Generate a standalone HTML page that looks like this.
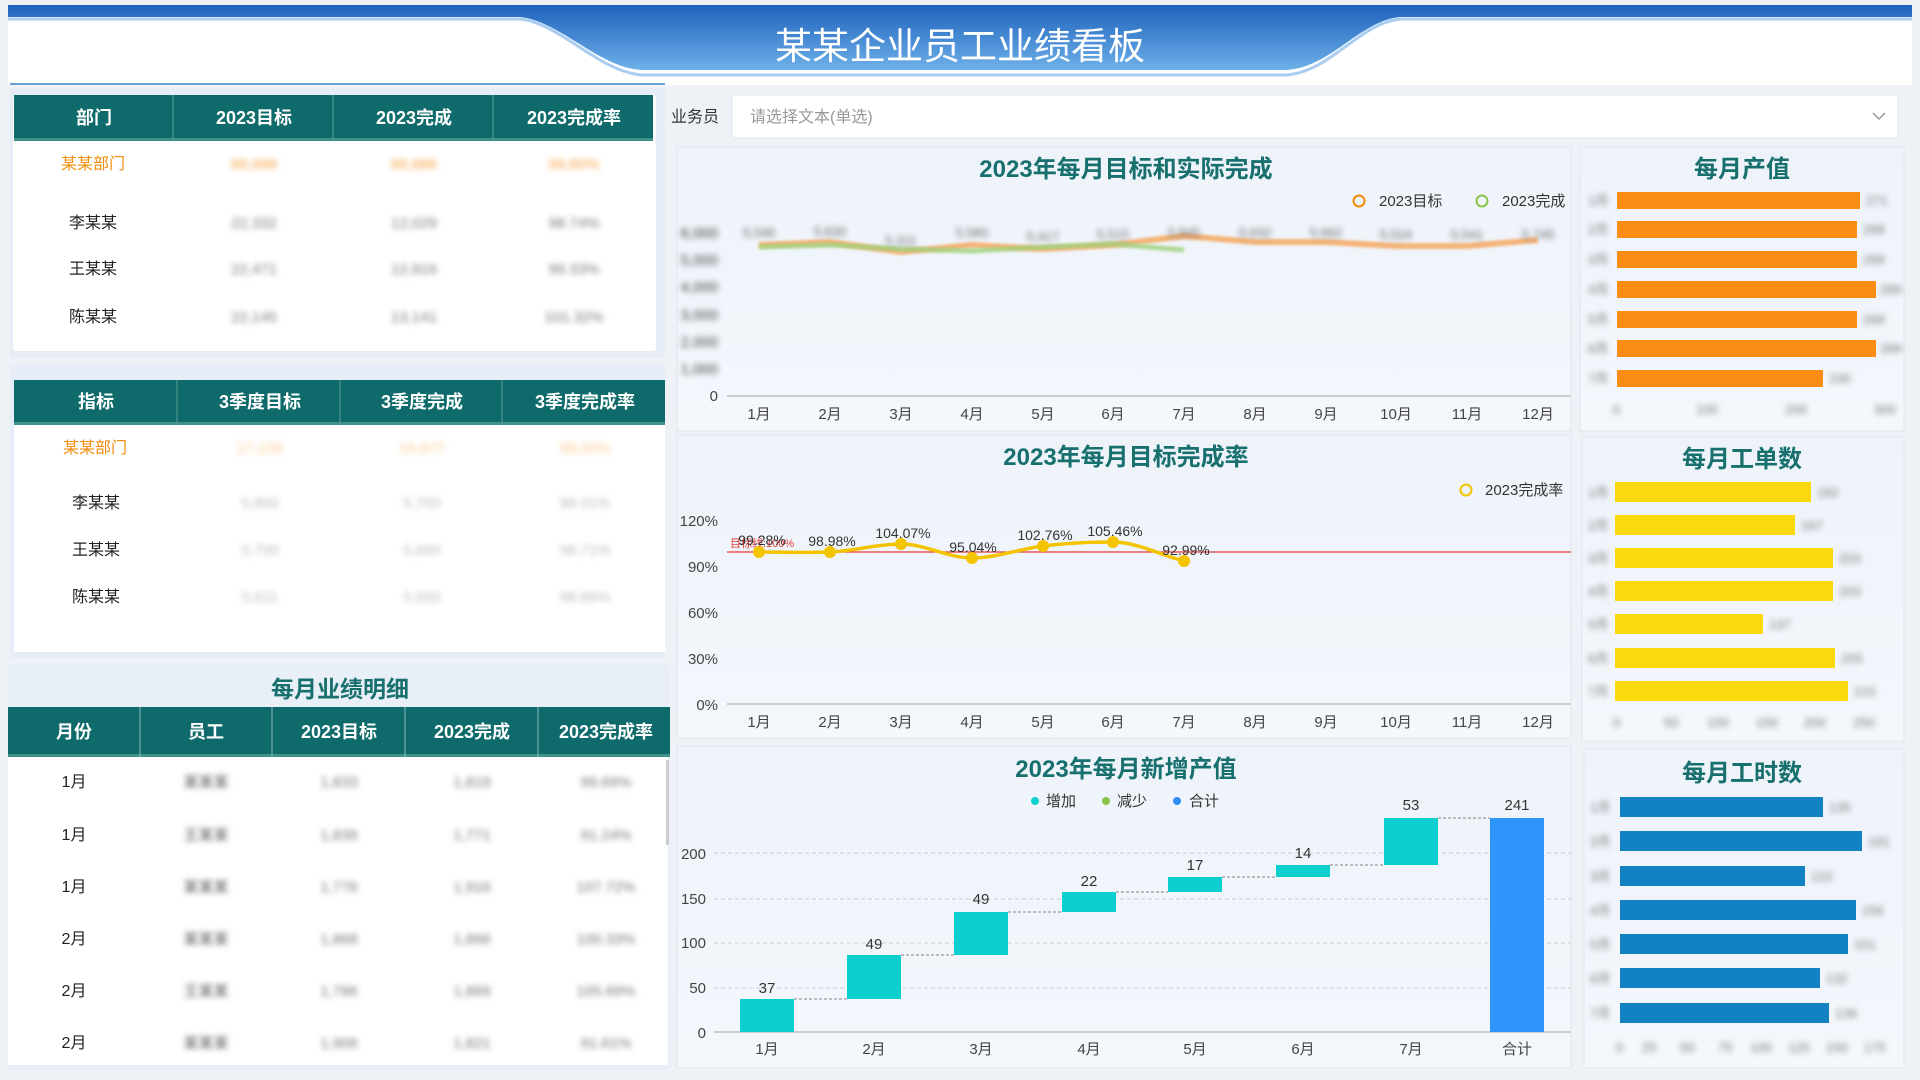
<!DOCTYPE html>
<html><head><meta charset="utf-8"><style>
html,body{margin:0;padding:0;background:#eef1f5;}
svg{display:block;font-family:"Liberation Sans","Noto Sans CJK SC",sans-serif;}
.b{filter:blur(3px);}
.th{fill:#fff;font-weight:bold;font-size:18px;text-anchor:middle;}
.td{fill:#222;font-size:16px;text-anchor:middle;}
.tb{fill:#777;font-size:15px;text-anchor:middle;filter:blur(3px);}
.ttl{fill:#17706e;font-weight:bold;font-size:24px;text-anchor:middle;}
.ax{fill:#444;font-size:15px;}
.lb{fill:#333;font-size:14px;text-anchor:middle;}
</style></head><body>
<svg width="1920" height="1080" viewBox="0 0 1920 1080">
<defs>
<linearGradient id="hg" x1="0" y1="0" x2="0" y2="1"><stop offset="0" stop-color="#1f62bd"/><stop offset="1" stop-color="#6db0e8"/></linearGradient>
<linearGradient id="pg" x1="0" y1="0" x2="0" y2="1"><stop offset="0" stop-color="#eef3fa"/><stop offset="1" stop-color="#f4f7fc"/></linearGradient>
</defs>
<rect width="1920" height="1080" fill="#eef1f5"/>
<!-- header -->
<rect x="8" y="5" width="1904" height="80" fill="#fff"/>
<path d="M8 5 H1912 V17 H1401 C1360 20 1330 69 1285 70 H643 C600 69 560 21 520 17 H8 Z" fill="url(#hg)"/>
<path d="M8 19 H520 C560 23 600 73 643 75 H1285 C1330 73 1360 22 1401 19 H1912" fill="none" stroke="#a9cdf0" stroke-width="3"/>
<line x1="10" y1="84" x2="665" y2="84" stroke="#6a9fd8" stroke-width="2"/>
<text x="960" y="59" fill="#fff" font-size="37" text-anchor="middle">某某企业员工业绩看板</text>

<!-- left panel 1 -->
<rect x="10" y="88" width="655" height="270" fill="#e6edf6"/>
<rect x="13" y="95" width="643" height="256" fill="#fff" rx="3"/>
<rect x="14" y="95" width="639" height="45" fill="#0f6b6b"/>
<rect x="14" y="138" width="639" height="3" fill="#3f918b"/>
<g stroke="#5e9c98" stroke-width="1"><line x1="173" y1="95" x2="173" y2="140"/><line x1="333" y1="95" x2="333" y2="140"/><line x1="493" y1="95" x2="493" y2="140"/></g>
<text class="th" x="94" y="124">部门</text><text class="th" x="254" y="124">2023目标</text><text class="th" x="414" y="124">2023完成</text><text class="th" x="574" y="124">2023完成率</text>
<text class="td" x="93" y="169" fill="#f28c0a" style="fill:#f28c0a">某某部门</text>
<text class="tb" x="254" y="169" style="fill:#f5a040">66,998</text><text class="tb" x="414" y="169" style="fill:#f5a040">66,686</text><text class="tb" x="574" y="169" style="fill:#f5a040">99,60%</text>
<text class="td" x="93" y="228">李某某</text><text class="tb" x="254" y="228">22,332</text><text class="tb" x="414" y="228">12,029</text><text class="tb" x="574" y="228">98.74%</text>
<text class="td" x="93" y="274">王某某</text><text class="tb" x="254" y="274">22,471</text><text class="tb" x="414" y="274">12,916</text><text class="tb" x="574" y="274">99.33%</text>
<text class="td" x="93" y="322">陈某某</text><text class="tb" x="254" y="322">22,145</text><text class="tb" x="414" y="322">13,141</text><text class="tb" x="574" y="322">101.32%</text>

<!-- left panel 2 -->
<rect x="10" y="365" width="655" height="293" fill="#e6edf6"/>
<rect x="14" y="380" width="651" height="272" fill="#fff"/>
<rect x="14" y="380" width="651" height="44" fill="#0f6b6b"/>
<rect x="14" y="422" width="651" height="3" fill="#3f918b"/>
<g stroke="#5e9c98"><line x1="177" y1="380" x2="177" y2="424"/><line x1="340" y1="380" x2="340" y2="424"/><line x1="502" y1="380" x2="502" y2="424"/></g>
<text class="th" x="96" y="408">指标</text><text class="th" x="260" y="408">3季度目标</text><text class="th" x="422" y="408">3季度完成</text><text class="th" x="585" y="408">3季度完成率</text>
<text class="td" x="95" y="453" style="fill:#f28c0a">某某部门</text>
<text class="tb" x="260" y="453" style="fill:#fbcb90">17,130</text><text class="tb" x="422" y="453" style="fill:#fbcb90">16,877</text><text class="tb" x="585" y="453" style="fill:#fbcb90">98,50%</text>
<text class="td" x="96" y="508">李某某</text><text class="tb" x="260" y="508" style="fill:#bbb">5,800</text><text class="tb" x="422" y="508" style="fill:#bbb">5,700</text><text class="tb" x="585" y="508" style="fill:#bbb">98.01%</text>
<text class="td" x="96" y="555">王某某</text><text class="tb" x="260" y="555" style="fill:#bbb">5,700</text><text class="tb" x="422" y="555" style="fill:#bbb">5,600</text><text class="tb" x="585" y="555" style="fill:#bbb">98.71%</text>
<text class="td" x="96" y="602">陈某某</text><text class="tb" x="260" y="602" style="fill:#bbb">5,611</text><text class="tb" x="422" y="602" style="fill:#bbb">5,550</text><text class="tb" x="585" y="602" style="fill:#bbb">98.89%</text>

<!-- left panel 3 -->
<rect x="8" y="665" width="662" height="405" fill="#e9eff7"/>
<rect x="8" y="757" width="660" height="308" fill="#fff"/>
<text class="ttl" x="340" y="697" style="font-size:23px">每月业绩明细</text>
<rect x="8" y="707" width="662" height="50" fill="#0f6b6b"/>
<rect x="8" y="754" width="662" height="3" fill="#3f918b"/>
<g stroke="#8bb8b5"><line x1="140" y1="707" x2="140" y2="757"/><line x1="272" y1="707" x2="272" y2="757"/><line x1="405" y1="707" x2="405" y2="757"/><line x1="538" y1="707" x2="538" y2="757"/></g>
<text class="th" x="74" y="738">月份</text><text class="th" x="206" y="738">员工</text><text class="th" x="339" y="738">2023目标</text><text class="th" x="472" y="738">2023完成</text><text class="th" x="606" y="738">2023完成率</text>
<rect x="666" y="760" width="3" height="85" fill="#ccc"/>
<g>
<text class="td" x="74" y="787">1月</text><text class="tb" x="206" y="787" style="fill:#555">某某某</text><text class="tb" x="339" y="787">1,833</text><text class="tb" x="472" y="787">1,819</text><text class="tb" x="606" y="787">99.69%</text>
<text class="td" x="74" y="840">1月</text><text class="tb" x="206" y="840" style="fill:#555">王某某</text><text class="tb" x="339" y="840">1,839</text><text class="tb" x="472" y="840">1,771</text><text class="tb" x="606" y="840">91.24%</text>
<text class="td" x="74" y="892">1月</text><text class="tb" x="206" y="892" style="fill:#555">某某某</text><text class="tb" x="339" y="892">1,776</text><text class="tb" x="472" y="892">1,916</text><text class="tb" x="606" y="892">107.72%</text>
<text class="td" x="74" y="944">2月</text><text class="tb" x="206" y="944" style="fill:#555">某某某</text><text class="tb" x="339" y="944">1,868</text><text class="tb" x="472" y="944">1,866</text><text class="tb" x="606" y="944">100.33%</text>
<text class="td" x="74" y="996">2月</text><text class="tb" x="206" y="996" style="fill:#555">王某某</text><text class="tb" x="339" y="996">1,786</text><text class="tb" x="472" y="996">1,869</text><text class="tb" x="606" y="996">105.69%</text>
<text class="td" x="74" y="1048">2月</text><text class="tb" x="206" y="1048" style="fill:#555">某某某</text><text class="tb" x="339" y="1048">1,906</text><text class="tb" x="472" y="1048">1,821</text><text class="tb" x="606" y="1048">91.61%</text>
</g>

<!-- dropdown -->
<text x="671" y="122" font-size="16" fill="#333">业务员</text>
<rect x="732" y="95" width="1166" height="43" rx="3" fill="#fff" stroke="#e3e8ef"/>
<text x="750" y="122" font-size="16" fill="#999">请选择文本(单选)</text>
<path d="M1873 113 l6 6 l6 -6" fill="none" stroke="#999" stroke-width="1.5"/>

<!-- chart panels -->
<rect x="677" y="147" width="894" height="284" fill="url(#pg)" stroke="#dfe7f1"/>
<rect x="677" y="435" width="894" height="303" fill="url(#pg)" stroke="#dfe7f1"/>
<rect x="677" y="746" width="894" height="322" fill="url(#pg)" stroke="#dfe7f1"/>
<rect x="1580" y="147" width="324" height="284" fill="url(#pg)" stroke="#dfe7f1"/>
<rect x="1582" y="437" width="322" height="304" fill="url(#pg)" stroke="#dfe7f1"/>
<rect x="1584" y="749" width="320" height="319" fill="url(#pg)" stroke="#dfe7f1"/>

<!-- chart1 -->
<text class="ttl" x="1126" y="177">2023年每月目标和实际完成</text>
<circle cx="1359" cy="201" r="5.5" fill="none" stroke="#f28c0a" stroke-width="2"/><text x="1379" y="206" font-size="15" fill="#333">2023目标</text>
<circle cx="1482" cy="201" r="5.5" fill="none" stroke="#8bc34a" stroke-width="2"/><text x="1502" y="206" font-size="15" fill="#333">2023完成</text>
<g class="ax" text-anchor="end">
<text x="718" y="401">0</text>
<g class="b"><text x="718" y="374">1,000</text><text x="718" y="347">2,000</text><text x="718" y="320">3,000</text><text x="718" y="292">4,000</text><text x="718" y="265">5,000</text><text x="718" y="238">6,000</text></g>
</g>
<line x1="727" y1="396" x2="1571" y2="396" stroke="#ccc" stroke-width="2"/>
<g class="ax" text-anchor="middle">
<text x="759" y="419">1月</text><text x="830" y="419">2月</text><text x="901" y="419">3月</text><text x="972" y="419">4月</text><text x="1043" y="419">5月</text><text x="1113" y="419">6月</text><text x="1184" y="419">7月</text><text x="1255" y="419">8月</text><text x="1326" y="419">9月</text><text x="1396" y="419">10月</text><text x="1467" y="419">11月</text><text x="1538" y="419">12月</text>
</g>
<polyline points="759,245 830,242 901,252 972,245 1043,249 1113,245 1184,236 1255,242 1326,242 1396,246 1467,246 1538,240" fill="none" stroke="#f5a962" stroke-width="6" opacity="0.85" style="filter:blur(1.2px)"/>
<polyline points="759,247 830,245 901,249 972,251 1043,247 1113,244 1184,250" fill="none" stroke="#9ed27a" stroke-width="5" opacity="0.8" style="filter:blur(1.2px)"/>
<g class="b" font-size="13" fill="#666" text-anchor="middle">
<text x="759" y="237">5,546</text><text x="830" y="236">5,630</text><text x="901" y="245">5,311</text><text x="972" y="237">5,580</text><text x="1043" y="241">5,417</text><text x="1113" y="239">5,515</text><text x="1184" y="237">5,845</text><text x="1255" y="237">5,632</text><text x="1326" y="237">5,662</text><text x="1396" y="239">5,524</text><text x="1467" y="239">5,541</text><text x="1538" y="239">5,745</text>
</g>

<!-- chart2 -->
<text class="ttl" x="1126" y="465">2023年每月目标完成率</text>
<circle cx="1466" cy="490" r="5.5" fill="none" stroke="#f5c400" stroke-width="2"/><text x="1485" y="495" font-size="15" fill="#333">2023完成率</text>
<g class="ax" text-anchor="end"><text x="718" y="526">120%</text><text x="718" y="572">90%</text><text x="718" y="618">60%</text><text x="718" y="664">30%</text><text x="718" y="710">0%</text></g>
<line x1="727" y1="704" x2="1571" y2="704" stroke="#ccc" stroke-width="2"/>
<g class="ax" text-anchor="middle">
<text x="759" y="727">1月</text><text x="830" y="727">2月</text><text x="901" y="727">3月</text><text x="972" y="727">4月</text><text x="1043" y="727">5月</text><text x="1113" y="727">6月</text><text x="1184" y="727">7月</text><text x="1255" y="727">8月</text><text x="1326" y="727">9月</text><text x="1396" y="727">10月</text><text x="1467" y="727">11月</text><text x="1538" y="727">12月</text>
</g>
<line x1="727" y1="552" x2="1571" y2="552" stroke="#e53935" stroke-width="1.2"/>
<text x="730" y="547" font-size="11" fill="#e53935">目标线:100%</text>
<path d="M759,552 C783,552 806,553 830,552 C854,551 877,544 901,544 C925,544 948,558 972,558 C996,558 1019,549 1043,546 C1067,543 1090,542 1113,542 C1137,542 1160,555 1184,561" fill="none" stroke="#f5c400" stroke-width="3.5"/>
<g fill="#f5c400"><circle cx="759" cy="552" r="6"/><circle cx="830" cy="552" r="6"/><circle cx="901" cy="544" r="6"/><circle cx="972" cy="558" r="6"/><circle cx="1043" cy="546" r="6"/><circle cx="1113" cy="542" r="6"/><circle cx="1184" cy="561" r="6"/></g>
<g class="lb"><text x="762" y="545">99.28%</text><text x="832" y="546">98.98%</text><text x="903" y="538">104.07%</text><text x="973" y="552">95.04%</text><text x="1045" y="540">102.76%</text><text x="1115" y="536">105.46%</text><text x="1186" y="555">92.99%</text></g>

<!-- chart3 waterfall -->
<text class="ttl" x="1126" y="777">2023年每月新增产值</text>
<circle cx="1035" cy="801" r="4" fill="#0fcfcf"/><text x="1046" y="806" font-size="15" fill="#333">增加</text>
<circle cx="1106" cy="801" r="4" fill="#8bc34a"/><text x="1117" y="806" font-size="15" fill="#333">减少</text>
<circle cx="1177" cy="801" r="4" fill="#2e8ef5"/><text x="1189" y="806" font-size="15" fill="#333">合计</text>
<g stroke="#ccc" stroke-dasharray="4,3"><line x1="714" y1="853" x2="1571" y2="853"/><line x1="714" y1="899" x2="1571" y2="899"/><line x1="714" y1="943" x2="1571" y2="943"/><line x1="714" y1="988" x2="1571" y2="988"/></g>
<line x1="714" y1="1032" x2="1571" y2="1032" stroke="#ccc" stroke-width="2"/>
<g class="ax" text-anchor="end"><text x="706" y="859">200</text><text x="706" y="904">150</text><text x="706" y="948">100</text><text x="706" y="993">50</text><text x="706" y="1038">0</text></g>
<g fill="#0dcfcf">
<rect x="740" y="999" width="54" height="33"/>
<rect x="847" y="955" width="54" height="44"/>
<rect x="954" y="912" width="54" height="43"/>
<rect x="1062" y="892" width="54" height="20"/>
<rect x="1168" y="877" width="54" height="15"/>
<rect x="1276" y="865" width="54" height="12"/>
<rect x="1384" y="818" width="54" height="47"/>
</g>
<rect x="1490" y="818" width="54" height="214" fill="#2e95fb"/>
<g stroke="#aaa" stroke-dasharray="3,2" stroke-width="1.5"><line x1="794" y1="999" x2="847" y2="999"/><line x1="901" y1="955" x2="954" y2="955"/><line x1="1008" y1="912" x2="1062" y2="912"/><line x1="1116" y1="892" x2="1168" y2="892"/><line x1="1222" y1="877" x2="1276" y2="877"/><line x1="1330" y1="865" x2="1384" y2="865"/><line x1="1438" y1="818" x2="1490" y2="818"/></g>
<g class="lb" style="font-size:15px"><text x="767" y="993">37</text><text x="874" y="949">49</text><text x="981" y="904">49</text><text x="1089" y="886">22</text><text x="1195" y="870">17</text><text x="1303" y="858">14</text><text x="1411" y="810">53</text><text x="1517" y="810">241</text></g>
<g class="ax" text-anchor="middle"><text x="767" y="1054">1月</text><text x="874" y="1054">2月</text><text x="981" y="1054">3月</text><text x="1089" y="1054">4月</text><text x="1195" y="1054">5月</text><text x="1303" y="1054">6月</text><text x="1411" y="1054">7月</text><text x="1517" y="1054">合计</text></g>

<!-- right 1 -->
<text class="ttl" x="1742" y="177">每月产值</text>
<g fill="#fb8c14">
<rect x="1617" y="192" width="243" height="17"/><rect x="1617" y="221" width="240" height="17"/><rect x="1617" y="251" width="240" height="17"/><rect x="1617" y="281" width="259" height="17"/><rect x="1617" y="311" width="240" height="17"/><rect x="1617" y="340" width="259" height="17"/><rect x="1617" y="370" width="206" height="17"/>
</g>
<g class="b" font-size="13" fill="#777">
<text x="1588" y="205">1月</text><text x="1588" y="234">2月</text><text x="1588" y="264">3月</text><text x="1588" y="294">4月</text><text x="1588" y="324">5月</text><text x="1588" y="353">6月</text><text x="1588" y="383">7月</text>
<text x="1866" y="205">271</text><text x="1863" y="234">268</text><text x="1863" y="264">268</text><text x="1880" y="294">289</text><text x="1863" y="324">268</text><text x="1880" y="353">289</text><text x="1829" y="383">230</text>
<text x="1613" y="414">0</text><text x="1696" y="414">100</text><text x="1785" y="414">200</text><text x="1874" y="414">300</text>
</g>

<!-- right 2 -->
<text class="ttl" x="1742" y="467">每月工单数</text>
<g fill="#fbd90f">
<rect x="1615" y="482" width="196" height="20"/><rect x="1615" y="515" width="180" height="20"/><rect x="1615" y="548" width="218" height="20"/><rect x="1615" y="581" width="218" height="20"/><rect x="1615" y="614" width="148" height="20"/><rect x="1615" y="648" width="220" height="20"/><rect x="1615" y="681" width="233" height="20"/>
</g>
<g class="b" font-size="13" fill="#777">
<text x="1588" y="497">1月</text><text x="1588" y="530">2月</text><text x="1588" y="563">3月</text><text x="1588" y="596">4月</text><text x="1588" y="629">5月</text><text x="1588" y="663">6月</text><text x="1588" y="696">7月</text>
<text x="1817" y="497">182</text><text x="1801" y="530">167</text><text x="1839" y="563">203</text><text x="1839" y="596">203</text><text x="1769" y="629">137</text><text x="1841" y="663">205</text><text x="1854" y="696">215</text>
<text x="1613" y="727">0</text><text x="1664" y="727">50</text><text x="1707" y="727">100</text><text x="1756" y="727">150</text><text x="1804" y="727">200</text><text x="1853" y="727">250</text>
</g>

<!-- right 3 -->
<text class="ttl" x="1742" y="781">每月工时数</text>
<g fill="#1282c2">
<rect x="1620" y="797" width="203" height="20"/><rect x="1620" y="831" width="242" height="20"/><rect x="1620" y="866" width="185" height="20"/><rect x="1620" y="900" width="236" height="20"/><rect x="1620" y="934" width="228" height="20"/><rect x="1620" y="968" width="200" height="20"/><rect x="1620" y="1003" width="209" height="20"/>
</g>
<g class="b" font-size="13" fill="#777">
<text x="1590" y="812">1月</text><text x="1590" y="846">2月</text><text x="1590" y="881">3月</text><text x="1590" y="915">4月</text><text x="1590" y="949">5月</text><text x="1590" y="983">6月</text><text x="1590" y="1018">7月</text>
<text x="1829" y="812">135</text><text x="1868" y="846">161</text><text x="1811" y="881">122</text><text x="1862" y="915">156</text><text x="1854" y="949">151</text><text x="1826" y="983">132</text><text x="1835" y="1018">139</text>
<text x="1616" y="1052">0</text><text x="1642" y="1052">25</text><text x="1680" y="1052">50</text><text x="1718" y="1052">75</text><text x="1750" y="1052">100</text><text x="1788" y="1052">125</text><text x="1826" y="1052">150</text><text x="1864" y="1052">175</text>
</g>
</svg>
</body></html>
